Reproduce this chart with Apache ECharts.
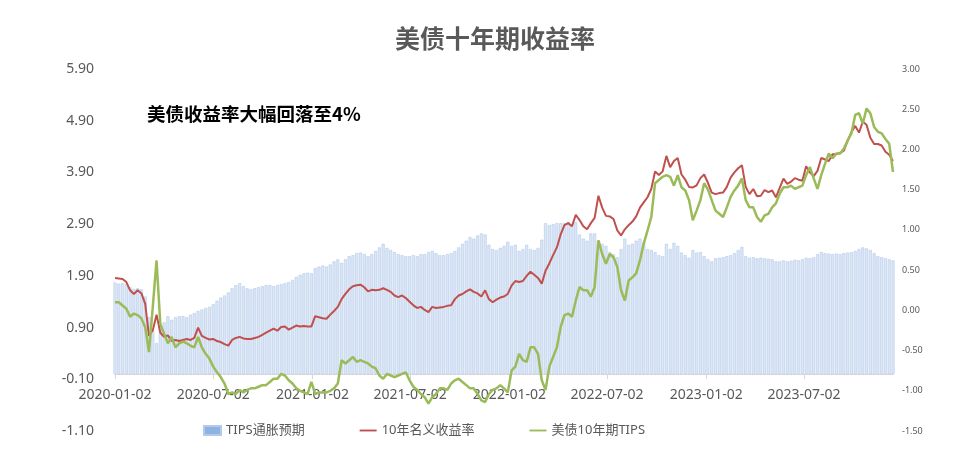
<!DOCTYPE html>
<html>
<head>
<meta charset="utf-8">
<script src="https://cdn.jsdelivr.net/npm/echarts@6/dist/echarts.min.js"></script>
<style>html,body{margin:0;padding:0;background:#fff}#c{width:958px;height:466px}</style>
</head>
<body>
<div id="c"></div>
<script>
// weekly sampling starting 2020-01-02
const startDate = [2020, 1, 2];
const stepDays = 7;
const xTickLabels = ['2020-01-02','2020-07-02','2021-01-02','2021-07-02','2022-01-02','2022-07-02','2023-01-02','2023-07-02'];
const xEnd = '2023-12-14';
const leftTicks = [-1.1, 5.9, 1];
const rightTicks = [-1.5, 3.0, 0.5];
const seriesNames = ['TIPS通胀预期', '10年名义收益率', '美债10年期TIPS'];

// TIPS breakeven (left axis)
const breakeven = [
1.77,1.75,1.76,1.74,1.68,1.65,1.66,1.64,1.50,1.10,
0.85,0.60,0.95,1.00,1.12,1.05,1.10,1.12,1.12,1.10,
1.15,1.18,1.22,1.25,1.28,1.30,1.35,1.42,1.48,1.52,
1.58,1.66,1.72,1.76,1.70,1.66,1.64,1.66,1.68,1.70,
1.72,1.72,1.70,1.72,1.74,1.76,1.78,1.82,1.88,1.92,
1.95,1.96,1.95,2.05,2.08,2.10,2.08,2.12,2.18,2.22,
2.15,2.22,2.28,2.30,2.34,2.35,2.32,2.28,2.32,2.38,
2.45,2.52,2.44,2.40,2.36,2.32,2.30,2.28,2.28,2.30,
2.28,2.32,2.32,2.36,2.38,2.34,2.30,2.30,2.32,2.34,
2.38,2.45,2.52,2.58,2.65,2.62,2.68,2.72,2.70,2.50,
2.42,2.40,2.44,2.48,2.56,2.48,2.50,2.38,2.42,2.50,
2.42,2.40,2.44,2.60,2.92,2.88,2.90,2.92,2.92,2.92,
2.94,2.90,2.94,2.70,2.62,2.58,2.72,2.72,2.58,2.52,
2.48,2.36,2.32,2.26,2.42,2.62,2.50,2.52,2.58,2.62,
2.55,2.42,2.40,2.36,2.30,2.28,2.52,2.42,2.54,2.48,
2.35,2.30,2.25,2.40,2.35,2.36,2.28,2.22,2.18,2.24,
2.25,2.26,2.28,2.30,2.34,2.40,2.46,2.28,2.25,2.26,
2.24,2.25,2.24,2.23,2.22,2.18,2.18,2.20,2.18,2.19,
2.21,2.20,2.22,2.25,2.24,2.26,2.32,2.36,2.34,2.33,
2.32,2.33,2.32,2.34,2.35,2.36,2.38,2.42,2.45,2.43,
2.40,2.34,2.28,2.26,2.24,2.22,2.20
];

// 10Y nominal yield (left axis)
const nominal = [
1.86,1.85,1.84,1.78,1.62,1.55,1.62,1.56,1.36,0.74,
0.85,1.15,0.80,0.72,0.75,0.64,0.66,0.64,0.66,0.68,
0.66,0.70,0.90,0.74,0.70,0.67,0.68,0.64,0.62,0.58,
0.55,0.66,0.70,0.72,0.69,0.68,0.68,0.70,0.72,0.76,
0.80,0.84,0.88,0.84,0.91,0.92,0.86,0.90,0.94,0.92,
0.93,0.92,0.92,1.12,1.10,1.08,1.07,1.15,1.22,1.30,
1.45,1.55,1.64,1.70,1.72,1.73,1.68,1.60,1.63,1.62,
1.63,1.66,1.63,1.59,1.52,1.49,1.52,1.47,1.40,1.33,
1.28,1.30,1.24,1.20,1.30,1.28,1.29,1.30,1.32,1.33,
1.45,1.52,1.55,1.60,1.64,1.59,1.56,1.50,1.62,1.45,
1.39,1.44,1.48,1.50,1.55,1.71,1.80,1.78,1.80,1.90,
1.98,1.92,1.86,1.75,2.00,2.14,2.30,2.45,2.70,2.88,
2.92,2.86,3.08,2.98,2.86,2.80,2.92,3.02,3.45,3.22,
3.06,3.05,3.00,2.78,2.68,2.80,2.88,2.95,3.05,3.22,
3.32,3.42,3.58,3.92,3.85,3.92,4.22,4.00,4.12,4.18,
3.86,3.76,3.62,3.61,3.65,3.79,3.86,3.70,3.51,3.48,
3.50,3.51,3.62,3.80,3.90,3.98,4.04,3.62,3.48,3.58,
3.44,3.45,3.56,3.52,3.55,3.42,3.60,3.78,3.68,3.72,
3.79,3.76,3.74,4.02,3.90,3.83,3.93,4.18,4.15,4.12,
4.25,4.25,4.28,4.32,4.52,4.68,4.80,4.67,4.88,4.82,
4.57,4.45,4.45,4.42,4.30,4.24,4.12
];

// 10Y TIPS real yield (right axis)
const tips = [
0.10,0.10,0.06,0.02,-0.08,-0.04,-0.06,-0.10,-0.21,-0.52,
0.04,0.62,-0.17,-0.29,-0.41,-0.33,-0.46,-0.41,-0.39,-0.41,
-0.44,-0.46,-0.33,-0.46,-0.54,-0.60,-0.70,-0.77,-0.83,-0.91,
-1.04,-1.02,-1.04,-0.99,-1.02,-0.99,-0.97,-0.97,-0.95,-0.93,
-0.93,-0.89,-0.85,-0.85,-0.79,-0.81,-0.87,-0.91,-0.97,-1.00,
-1.02,-1.04,-0.89,-1.04,-1.02,-1.02,-1.02,-1.00,-0.97,-0.91,
-0.62,-0.66,-0.62,-0.58,-0.64,-0.62,-0.64,-0.66,-0.70,-0.72,
-0.81,-0.85,-0.79,-0.81,-0.83,-0.81,-0.79,-0.77,-0.87,-0.95,
-0.99,-1.04,-1.08,-1.16,-1.08,-1.04,-0.97,-0.97,-0.99,-0.91,
-0.87,-0.85,-0.89,-0.93,-0.97,-0.97,-1.04,-1.12,-1.14,-1.04,
-0.99,-0.97,-0.93,-0.97,-1.02,-0.75,-0.70,-0.54,-0.62,-0.64,
-0.46,-0.46,-0.54,-0.87,-0.99,-0.70,-0.58,-0.46,-0.21,-0.06,
-0.04,-0.08,0.12,0.29,0.25,0.25,0.17,0.29,0.87,0.70,
0.58,0.70,0.66,0.54,0.25,0.12,0.37,0.41,0.46,0.62,
0.83,0.99,1.16,1.58,1.62,1.66,1.68,1.66,1.55,1.68,
1.53,1.49,1.37,1.12,1.24,1.37,1.58,1.50,1.37,1.24,
1.20,1.16,1.28,1.41,1.49,1.55,1.64,1.37,1.28,1.28,
1.16,1.10,1.18,1.20,1.28,1.33,1.45,1.53,1.53,1.55,
1.51,1.53,1.55,1.68,1.78,1.64,1.51,1.68,1.82,1.95,
1.89,1.95,1.95,2.01,2.11,2.20,2.43,2.45,2.32,2.51,
2.45,2.28,2.22,2.20,2.13,2.07,1.72
];

function ts(s) { const p = s.split('-').map(Number); return new Date(p[0], p[1] - 1, p[2]).getTime(); }
const dates = nominal.map((_, i) => new Date(startDate[0], startDate[1] - 1, startDate[2] + i * stepDays).getTime());
const pair = arr => arr.map((v, i) => [dates[i], v]);
const tickTs = xTickLabels.map(ts);
function xLabel(v) {
  for (let k = 0; k < tickTs.length; k++) if (Math.abs(v - tickTs[k]) < 3600000 * 12) return xTickLabels[k];
  return '';
}

const gridTop = 69, gridBottom = 35, H = 466;
const gridH = H - gridTop - gridBottom;
// lift the x axis to the left axis' zero line
const xAxisLift = gridH * (0 - leftTicks[0]) / (leftTicks[1] - leftTicks[0]);

const txt = '#595959';
const fam = '"Noto Sans", "Noto Sans CJK SC", sans-serif';
const lineIcon = 'path://M0,0 L20,0 L20,2.2 L0,2.2 Z';
const chart = echarts.init(document.getElementById('c'), null, { renderer: 'canvas' });
chart.setOption({
  animation: false,
  backgroundColor: '#fff',
  title: {
    text: '美债十年期收益率', left: 390, top: 21,
    textStyle: { fontSize: 25, fontWeight: 'bold', color: txt, fontFamily: '"Noto Sans CJK SC", sans-serif' }
  },
  graphic: [{
    type: 'text', left: 147, top: 105,
    style: { text: '美债收益率大幅回落至4%', fontSize: 18.5, fontWeight: 'bold', fill: '#000', fontFamily: '"Noto Sans CJK SC", sans-serif' }
  }],
  legend: {
    left: 203, top: 424, padding: 0, itemWidth: 17, itemHeight: 9, itemGap: 55,
    textStyle: { fontSize: 13, color: txt, fontFamily: fam },
    data: [
      { name: seriesNames[0], icon: 'rect', itemStyle: { color: '#8db3e2' } },
      { name: seriesNames[1], icon: lineIcon, itemStyle: { color: '#c0504d' } },
      { name: seriesNames[2], icon: lineIcon, itemStyle: { color: '#9bbb59' } }
    ]
  },
  grid: { left: 115, right: 65, top: gridTop, bottom: gridBottom },
  xAxis: {
    type: 'value', min: ts(xTickLabels[0]), max: ts(xEnd),
    position: 'bottom', offset: -xAxisLift,
    splitLine: { show: false },
    axisLine: { onZero: false, lineStyle: { color: '#d9d9d9', width: 1 } },
    axisTick: { show: true, customValues: tickTs, length: 5, lineStyle: { color: '#d9d9d9' } },
    axisLabel: { customValues: tickTs, formatter: xLabel, color: txt, fontSize: 14, margin: 14, fontFamily: fam, hideOverlap: false, showMinLabel: true, showMaxLabel: true }
  },
  yAxis: [{
    type: 'value', min: leftTicks[0], max: leftTicks[1], interval: leftTicks[2],
    splitLine: { show: false }, axisLine: { show: false }, axisTick: { show: false },
    axisLabel: { formatter: v => v.toFixed(2), color: txt, fontSize: 14, margin: 21, fontFamily: fam }
  }, {
    type: 'value', min: rightTicks[0], max: rightTicks[1], interval: rightTicks[2],
    splitLine: { show: false }, axisLine: { show: false }, axisTick: { show: false },
    axisLabel: { formatter: v => v.toFixed(2), color: txt, fontSize: 9, margin: 9, fontFamily: fam }
  }],
  series: [{
    name: seriesNames[0], type: 'bar', yAxisIndex: 0, data: pair(breakeven),
    barWidth: 3, itemStyle: { color: '#dce7f6', borderColor: '#b3cae9', borderWidth: 0.6 }, z: 1
  }, {
    name: seriesNames[1], type: 'line', yAxisIndex: 0, data: pair(nominal),
    symbol: 'none', lineStyle: { color: '#c0504d', width: 2 }, itemStyle: { color: '#c0504d' }, z: 3
  }, {
    name: seriesNames[2], type: 'line', yAxisIndex: 1, data: pair(tips),
    symbol: 'none', lineStyle: { color: '#9bbb59', width: 2.5 }, itemStyle: { color: '#9bbb59' }, z: 4
  }]
});
</script>
</body>
</html>
